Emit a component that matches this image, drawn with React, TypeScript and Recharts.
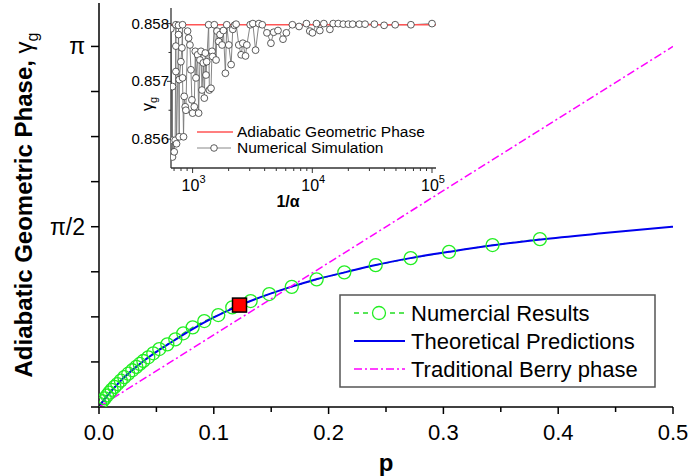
import React from "react";
import {
  ComposedChart,
  LineChart,
  Line,
  XAxis,
  YAxis,
  Legend,
} from "recharts";

const PI = Math.PI;

// main panel: numerical results (green circles)
const numP = [
  0.001, 0.003, 0.005, 0.007, 0.009, 0.011, 0.0135, 0.016, 0.019, 0.022, 0.0255, 0.029,
  0.0325, 0.0355, 0.0386, 0.0429, 0.0473, 0.0525, 0.0595, 0.0665, 0.0734, 0.0816, 0.0917,
  0.1039, 0.1161, 0.1321, 0.1483, 0.1679, 0.1896, 0.2137, 0.241, 0.2715, 0.3049, 0.3428, 0.3841,
];
const numGamma = [
  0.025, 0.05, 0.075, 0.1, 0.125, 0.15, 0.175, 0.2, 0.23, 0.26, 0.29, 0.32,
  0.35, 0.375, 0.401, 0.433, 0.468, 0.505, 0.546, 0.589, 0.642, 0.694, 0.749,
  0.801, 0.868, 0.923, 0.984, 1.047, 1.112, 1.173, 1.236, 1.297, 1.352, 1.411, 1.463,
];

// theoretical prediction (blue)
const theoryP = [0, 0.005, 0.01, 0.02, 0.03, 0.04, 0.05, 0.06, 0.08, 0.1, 0.12, 0.15, 0.17, 0.19, 0.215, 0.24, 0.27, 0.305, 0.34, 0.385, 0.44, 0.5];
const theoryGamma = [0, 0.07, 0.13, 0.24, 0.33, 0.41, 0.48, 0.545, 0.67, 0.78, 0.875, 0.99, 1.055, 1.115, 1.175, 1.235, 1.295, 1.352, 1.405, 1.46, 1.515, 1.571];

// traditional Berry phase (magenta)
const berryP = [0, 0.5];
const berryGamma = [0, PI];

// highlighted point (red square)
const markP = [0.1224];
const markGamma = [0.888];

const xTicks = [0, 0.05, 0.1, 0.15, 0.2, 0.25, 0.3, 0.35, 0.4, 0.45, 0.5];
const yTicks = [0, PI / 8, PI / 4, (3 * PI) / 8, PI / 2, (5 * PI) / 8, (3 * PI) / 4, (7 * PI) / 8, PI];

// inset: numerical simulation vs 1/alpha
const simInvAlpha = [
  658, 679, 679, 679, 702, 715, 725, 725, 725, 734, 763, 763, 773, 773, 798, 814, 824, 824, 840, 851,
  868, 879, 908, 926, 950, 968, 987, 1000, 1033, 1053, 1067, 1102, 1123, 1152, 1175, 1198, 1229, 1253,
  1277, 1294, 1311, 1362, 1380, 1425, 1453, 1472, 1519, 1570, 1600, 1653, 1696, 1763, 1808, 1879, 1929,
  2005, 2098, 2166, 2238, 2310, 2432, 2545, 2628, 2767, 2839, 3028, 3188, 3357, 3580, 3818, 4178, 4512,
  4753, 5168, 5690, 6071, 6818, 7753, 8934, 9528, 10032, 10838, 11560, 12490, 14026, 14955, 16475,
  18150, 19990, 21730, 24720, 27580, 33030, 39810, 49240, 66640, 100000,
];
const simGamma = [
  0.85791, 0.85569, 0.85691, 0.85598, 0.85578, 0.85598, 0.85798, 0.85761, 0.85717, 0.85592, 0.85781,
  0.85797, 0.85604, 0.85703, 0.85734, 0.85758, 0.85798, 0.85706, 0.85604, 0.85674, 0.85656, 0.8565,
  0.85787, 0.85775, 0.85763, 0.8572, 0.85668, 0.85645, 0.85656, 0.85752, 0.85706, 0.85746, 0.85645,
  0.85737, 0.85752, 0.85685, 0.85732, 0.85671, 0.85749, 0.85711, 0.85734, 0.85798, 0.85685, 0.85688,
  0.85752, 0.85743, 0.85798, 0.85737, 0.85787, 0.85769, 0.85781, 0.85763, 0.85788, 0.85714, 0.85798,
  0.85763, 0.85729, 0.8579, 0.85797, 0.85799, 0.85763, 0.85746, 0.85766, 0.85744, 0.85763, 0.85798,
  0.858, 0.85754, 0.858, 0.85798, 0.85784, 0.85766, 0.85785, 0.85788, 0.85773, 0.85784, 0.85798,
  0.85795, 0.858, 0.85787, 0.85784, 0.858, 0.85788, 0.858, 0.8579, 0.858, 0.858, 0.85799, 0.85799,
  0.85799, 0.85799, 0.85799, 0.85799, 0.85797, 0.85798, 0.85798, 0.858,
];
const adiabaticInvAlpha = [660, 108000];
const adiabaticGamma = [0.85798, 0.85798];

const insetXMajor = [1000, 10000, 100000];
const insetXTicks = [
  700, 800, 900, 1000, 2000, 3000, 4000, 5000, 6000, 7000, 8000, 9000, 10000,
  20000, 30000, 40000, 50000, 60000, 70000, 80000, 90000, 100000,
];
const insetYTicks = [0.856, 0.8565, 0.857, 0.8575, 0.858];

const zip = (xs: number[], ys: number[], kx: string, ky: string) =>
  xs.map((x, i) => ({ [kx]: x, [ky]: ys[i] }));

const numData = zip(numP, numGamma, "p", "g");
const theoryData = zip(theoryP, theoryGamma, "p", "g");
const berryData = zip(berryP, berryGamma, "p", "g");
const markData = zip(markP, markGamma, "p", "g");
const simData = zip(simInvAlpha, simGamma, "a", "g");
const adiabaticData = zip(adiabaticInvAlpha, adiabaticGamma, "a", "g");

const FONT = "'Liberation Sans', Arial, sans-serif";

const MainXTick = (props: any) => {
  const { x, y, payload } = props;
  const v = payload.value;
  const major = Math.abs(v * 10 - Math.round(v * 10)) < 1e-6;
  return (
    <g>
      <line x1={x} x2={x} y1={y} y2={y + (major ? 7 : 5)} stroke="#000" strokeWidth={1.5} />
      {major && (
        <text x={x} y={y + 33} textAnchor="middle" fontSize={22} fontFamily={FONT} fill="#000">
          {v.toFixed(1)}
        </text>
      )}
    </g>
  );
};

const MainYTick = (props: any) => {
  const { x, y, payload } = props;
  const v = payload.value;
  let label = "";
  if (Math.abs(v - PI) < 1e-6) label = "π";
  if (Math.abs(v - PI / 2) < 1e-6) label = "π/2";
  return (
    <g>
      <line x1={x} x2={x - 8} y1={y} y2={y} stroke="#000" strokeWidth={1.5} />
      {label && (
        <text x={x - 14} y={y + 8} textAnchor="end" fontSize={23} fontFamily={FONT} fill="#000">
          {label}
        </text>
      )}
    </g>
  );
};

const RightYTick = (props: any) => {
  const { x, y } = props;
  return <line x1={x} x2={x + 8} y1={y} y2={y} stroke="#000" strokeWidth={1.5} />;
};

const MainYTitle = () => (
  <text
    x={32}
    y={205}
    transform="rotate(-90, 32, 205)"
    textAnchor="middle"
    fontSize={24}
    fontWeight="bold"
    fontFamily={FONT}
    fill="#000"
  >
    Adiabatic Geometric Phase,{" "}
    <tspan fontWeight="normal">γ</tspan>
    <tspan fontWeight="normal" fontSize={16} dy={6}>g</tspan>
  </text>
);

const MainXTitle = () => (
  <text x={386} y={471} textAnchor="middle" fontSize={24} fontWeight="bold" fontFamily={FONT} fill="#000">
    p
  </text>
);

const RedSquare = (props: any) => {
  const { cx, cy } = props;
  if (cx == null || cy == null) return null;
  return <rect x={cx - 7} y={cy - 7} width={14} height={14} fill="#ff0000" stroke="#000" strokeWidth={1.5} />;
};

const MainLegend = () => (
  <svg width={318} height={95} style={{ display: "block" }}>
    <rect x={1} y={1} width={315} height={92} fill="#fff" stroke="#555" strokeWidth={1.5} />
    <line x1={15} x2={66} y1={19} y2={19} stroke="#22dd22" strokeWidth={1.5} strokeDasharray="5 4" />
    <circle cx={40} cy={19} r={6.5} fill="#fff" stroke="#22ee22" strokeWidth={1.3} />
    <text x={72} y={27} fontSize={22} fontFamily={FONT} fill="#000">Numercial Results</text>
    <line x1={15} x2={66} y1={47} y2={47} stroke="#0000ee" strokeWidth={2} />
    <text x={72} y={55} fontSize={22} fontFamily={FONT} fill="#000">Theoretical Predictions</text>
    <line x1={15} x2={66} y1={75} y2={75} stroke="#ff00ff" strokeWidth={1.5} strokeDasharray="8 3 2 3" />
    <text x={72} y={83} fontSize={22} fontFamily={FONT} fill="#000">Traditional Berry phase</text>
  </svg>
);

const InsetXTick = (props: any) => {
  const { x, y, payload } = props;
  const v = payload.value;
  const major = insetXMajor.includes(v);
  const exp = Math.round(Math.log10(v));
  return (
    <g>
      <line x1={x} x2={x} y1={y} y2={y + (major ? 5 : 3)} stroke="#333" strokeWidth={1} />
      {major && (
        <text x={x - 11} y={y + 23} fontSize={16} fontFamily={FONT} fill="#000">
          10
          <tspan fontSize={11} dy={-8}>{exp}</tspan>
        </text>
      )}
    </g>
  );
};

const InsetYTick = (props: any) => {
  const { x, y, payload } = props;
  const v = payload.value;
  const major = Math.abs(v * 1000 - Math.round(v * 1000)) < 1e-6;
  return (
    <g>
      <line x1={x} x2={x - (major ? 4 : 2.5)} y1={y} y2={y} stroke="#333" strokeWidth={1} />
      {major && (
        <text x={x - 2} y={y + 5} textAnchor="end" fontSize={15} fontFamily={FONT} fill="#000">
          {v.toFixed(3)}
        </text>
      )}
    </g>
  );
};

const InsetXTitle = () => (
  <text x={168} y={207} textAnchor="middle" fontSize={16} fontWeight="bold" fontFamily={FONT} fill="#000">
    1/α
  </text>
);

const InsetYTitle = () => (
  <text x={33} y={104} transform="rotate(-90, 33, 104)" textAnchor="middle" fontSize={16} fontFamily={FONT} fill="#000">
    γ<tspan fontSize={11} dy={4}>g</tspan>
  </text>
);

const InsetLegend = () => (
  <svg width={240} height={34} style={{ display: "block" }}>
    <line x1={0} x2={36} y1={8} y2={8} stroke="#ff5555" strokeWidth={1.5} />
    <text x={40} y={13} fontSize={15.5} fontFamily={FONT} fill="#000">Adiabatic Geometric Phase</text>
    <line x1={0} x2={34} y1={24} y2={24} stroke="#888" strokeWidth={1} />
    <circle cx={17} cy={24} r={3.3} fill="#fff" stroke="#333" strokeWidth={0.8} />
    <text x={40} y={29} fontSize={15.5} fontFamily={FONT} fill="#000">Numerical Simulation</text>
  </svg>
);

const SimDot = (props: any) => {
  const { cx, cy } = props;
  return <circle cx={cx} cy={cy} r={3.4} fill="#fff" stroke="#333" strokeWidth={0.8} />;
};

export default function App() {
  return (
    <div style={{ position: "absolute", left: 0, top: 0, width: 691, height: 476, background: "#fff", fontFamily: FONT }}>
      <ComposedChart width={691} height={476} margin={{ top: 3, right: 18, bottom: 0, left: 0 }}>
        <XAxis
          xAxisId="main"
          type="number"
          dataKey="p"
          domain={[0, 0.5]}
          ticks={xTicks}
          interval={0}
          height={69}
          tickSize={0}
          tickMargin={0}
          tick={<MainXTick />}
          axisLine={{ stroke: "#000", strokeWidth: 1.5 }}
          allowDataOverflow
        />
        <XAxis xAxisId="top" orientation="top" type="number" domain={[0, 0.5]} height={0} tick={false} tickLine={false} axisLine={{ stroke: "#000", strokeWidth: 1.5 }} />
        <YAxis
          yAxisId="main"
          type="number"
          domain={[0, 3.52]}
          ticks={yTicks}
          interval={0}
          width={99}
          tickSize={0}
          tickMargin={0}
          tick={<MainYTick />}
          axisLine={{ stroke: "#000", strokeWidth: 1.5 }}
          allowDataOverflow
        />
        <YAxis
          yAxisId="right"
          orientation="right"
          type="number"
          domain={[0, 3.52]}
          ticks={yTicks}
          interval={0}
          width={0}
          tickSize={0}
          tickMargin={0}
          tick={<RightYTick />}
          axisLine={{ stroke: "#000", strokeWidth: 1.5 }}
        />
        <Line
          xAxisId="main"
          yAxisId="main"
          data={numData}
          dataKey="g"
          type="linear"
          stroke="#22dd22"
          strokeWidth={1.3}
          strokeDasharray="5 4"
          dot={{ r: 6.5, fill: "none", stroke: "#22ee22", strokeWidth: 1.3, strokeDasharray: "" }}
          isAnimationActive={false}
        />
        <Line xAxisId="main" yAxisId="main" data={theoryData} dataKey="g" type="monotone" stroke="#0000ee" strokeWidth={2} dot={false} isAnimationActive={false} />
        <Line xAxisId="main" yAxisId="main" data={berryData} dataKey="g" type="linear" stroke="#ff00ff" strokeWidth={1.5} strokeDasharray="8 3 2 3" dot={false} isAnimationActive={false} />
        <Line xAxisId="main" yAxisId="main" data={markData} dataKey="g" stroke="none" dot={<RedSquare />} activeDot={false} isAnimationActive={false} />
        <Legend
          layout="horizontal"
          verticalAlign="middle"
          align="center"
          content={<MainLegend />}
          wrapperStyle={{ position: "absolute", left: 339, top: 294, width: 318, height: 95 }}
        />
      </ComposedChart>

      <svg width={691} height={476} style={{ position: "absolute", left: 0, top: 0, pointerEvents: "none" }}>
        <MainYTitle />
        <MainXTitle />
      </svg>

      <div style={{ position: "absolute", left: 120, top: 0, width: 330, height: 215 }}>
        <svg width={330} height={205} style={{ position: "absolute", left: 0, top: 0 }}>
          <rect x={51} y={8} width={265} height={160} fill="#fff" />
        </svg>
        <div style={{ position: "absolute", left: 0, top: 0 }}>
          <LineChart width={330} height={205} margin={{ top: 8, right: 14, bottom: 0, left: 0 }}>
            <XAxis
              xAxisId="in"
              type="number"
              dataKey="a"
              scale="log"
              domain={[660, 108000]}
              ticks={insetXTicks}
              interval={0}
              height={37}
              tickSize={0}
              tickMargin={0}
              tick={<InsetXTick />}
              axisLine={{ stroke: "#333", strokeWidth: 1.3 }}
              allowDataOverflow
            />
            <XAxis xAxisId="inTop" orientation="top" type="number" scale="log" domain={[660, 108000]} height={0} tick={false} tickLine={false} axisLine={{ stroke: "#333", strokeWidth: 1.3 }} />
            <YAxis
              yAxisId="in"
              type="number"
              domain={[0.8555, 0.85827]}
              ticks={insetYTicks}
              interval={0}
              width={51}
              tickSize={0}
              tickMargin={0}
              tick={<InsetYTick />}
              axisLine={{ stroke: "#333", strokeWidth: 1.3 }}
              allowDataOverflow
            />
            <YAxis yAxisId="inRight" orientation="right" type="number" domain={[0.8555, 0.85827]} width={0} tick={false} tickLine={false} axisLine={{ stroke: "#333", strokeWidth: 1.3 }} />
            <Line xAxisId="in" yAxisId="in" data={simData} dataKey="g" type="linear" stroke="#777" strokeWidth={0.9} dot={<SimDot />} isAnimationActive={false} />
            <Line xAxisId="in" yAxisId="in" data={adiabaticData} dataKey="g" type="linear" stroke="#ff5555" strokeWidth={1.5} dot={false} isAnimationActive={false} />
            <Legend
              layout="horizontal"
              verticalAlign="middle"
              align="center"
              content={<InsetLegend />}
              wrapperStyle={{ position: "absolute", left: 77, top: 124, width: 240, height: 34 }}
            />
          </LineChart>
        </div>
        <svg width={330} height={215} style={{ position: "absolute", left: 0, top: 0, pointerEvents: "none" }}>
          <InsetXTitle />
          <InsetYTitle />
        </svg>
      </div>
    </div>
  );
}
